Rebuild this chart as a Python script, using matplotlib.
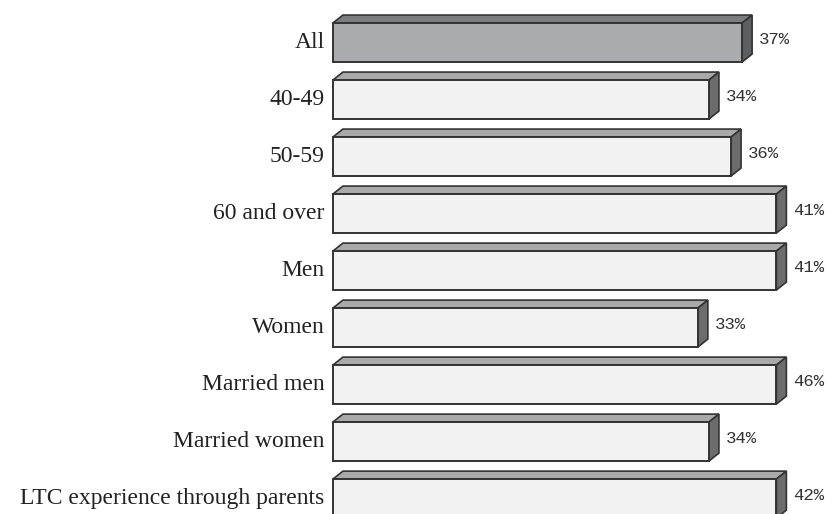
import numpy as np
import matplotlib.pyplot as plt
from matplotlib.patches import Polygon

categories = ['All', '40-49', '50-59', '60 and over', 'Men', 'Women',
              'Married men', 'Married women', 'LTC experience through parents']
values = [37, 34, 36, 41, 41, 33, 46, 34, 42]
labels = ['37%', '34%', '36%', '41%', '41%', '33%', '46%', '34%', '42%']

# axis stops around 40%, longer bars get cut there like in the original
cap = 40.1

fig = plt.figure(figsize=(8.35, 5.14), dpi=100)
ax = fig.add_axes([0, 0, 1, 1])
ax.set_xlim(-30.1, 45.4)
ax.set_ylim(8.27, -0.746)
ax.axis('off')

h = 0.342      # half height of front face
dx = 0.905     # depth in x (data units)
dy = 0.14      # depth in y

for i, (cat, v, lab) in enumerate(zip(categories, values, labels)):
    w = min(v, cap)
    if i == 0:
        front, top, side = '#aaabad', '#7c7d7f', '#5e5f61'
    else:
        front, top, side = '#f2f2f2', '#a9a9a9', '#6c6c6c'
    ax.barh(i, w, height=2 * h, left=0, color=front, edgecolor='#333333', lw=1.4, zorder=3)
    top_face = Polygon([[0, i - h], [dx, i - h - dy], [w + dx, i - h - dy], [w, i - h]],
                       closed=True, facecolor=top, edgecolor='#333333', lw=1.2, zorder=2)
    side_face = Polygon([[w, i - h], [w + dx, i - h - dy], [w + dx, i + h - dy], [w, i + h]],
                        closed=True, facecolor=side, edgecolor='#333333', lw=1.2, zorder=2)
    ax.add_patch(top_face)
    ax.add_patch(side_face)
    ax.text(-0.75, i, cat, ha='right', va='center', fontsize=17,
            family='Liberation Serif', color='#222222')
    ax.text(w + 1.5, i - 0.05, lab, ha='left', va='center', fontsize=12.5,
            family='Liberation Mono', color='#333333')

plt.savefig('out.png', dpi=100)
